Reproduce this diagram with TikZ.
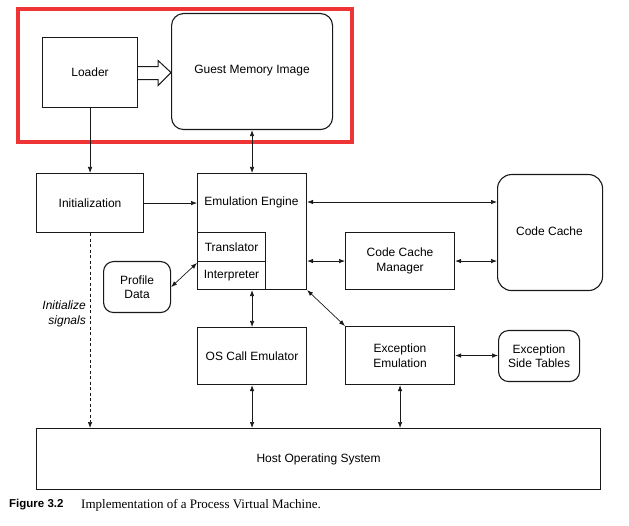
\documentclass[tikz,border=0pt]{standalone}
\usepackage{fontspec}
\setmainfont{Liberation Sans}
\newfontfamily\capserif{Liberation Serif}
\usetikzlibrary{arrows.meta,calc}
\definecolor{hlred}{RGB}{238,52,52}
\definecolor{ink}{RGB}{25,25,25}
\tikzset{
  box/.style={draw=ink, line width=1.1pt, anchor=north west, inner sep=0pt, align=center,
    font=\fontsize{12}{14.5}\selectfont},
  rbox/.style={box, rounded corners=#1},
  lbl/.style={inner sep=0pt, align=center, font=\fontsize{12}{14.5}\selectfont},
  arr/.style={draw=ink, line width=0.7pt, -{Latex[length=6pt,width=4.5pt]}},
  darr/.style={draw=ink, line width=0.7pt, {Latex[length=6pt,width=4.5pt]}-{Latex[length=6pt,width=4.5pt]}},
}
\begin{document}
\begin{tikzpicture}[x=1pt,y=-1pt]
\useasboundingbox (0,0) rectangle (629,526);
% highlight
\draw[hlred, line width=4pt] (18,9) rectangle (352,142);
% top row
\node[box, minimum width=95, minimum height=70] (loader) at (42,37) {Loader};
\node[rbox=12pt, minimum width=161, minimum height=116] (gmi) at (171,13) {};
\node[lbl] (gmitxt) at (252,71) {Guest Memory Image};
% hollow arrow
\draw[ink, line width=1pt, fill=white]
  ($(loader.east)+(0,-6)$) -- ++(20,0) -- ++(0,-6) -- ($(gmi.west |- loader.east)+(0,0)$)
  -- ($(loader.east)+(20,13)$) -- ++(0,-6) -- ($(loader.east)+(0,7)$);
% middle
\node[box, minimum width=107, minimum height=59] (init) at (36,173) {Initialization};
\node[box, minimum width=109, minimum height=116] (ee) at (197,173) {};
\node[lbl] (eetxt) at (251.5,202) {Emulation Engine};
\node[box, minimum width=68, minimum height=29] (trans) at (197,232) {Translator};
\node[box, minimum width=68, minimum height=28] (interp) at (197,261) {Interpreter};
\node[rbox=10pt, minimum width=67, minimum height=51] (pd) at (103,261) {Profile\\Data};
\node[box, minimum width=109, minimum height=57] (ccm) at (345,232) {Code Cache\\Manager};
\node[rbox=14pt, minimum width=105, minimum height=116] (cc) at (497,174) {};
\node[lbl] (cctxt) at (549.5,231) {Code Cache};
\node[box, minimum width=109, minimum height=57] (osc) at (197,327) {OS Call Emulator};
\node[box, minimum width=109, minimum height=58] (exc) at (345,326) {Exception\\Emulation};
\node[rbox=10pt, minimum width=81, minimum height=51] (est) at (498,330) {Exception\\Side Tables};
\node[box, minimum width=564, minimum height=61] (host) at (36,428) {Host Operating System};
\node[inner sep=0pt, anchor=east, align=right, font=\fontsize{12}{15.5}\selectfont\itshape] (sig) at (86,314) {Initialize\\signals};
% connectors
\draw[arr] (loader.south) -- (init.north);
\draw[darr] (gmi.south) -- (ee.north);
\draw[arr] (init.east) -- (ee.west |- init.east);
\draw[darr] (ee.east |- eetxt) -- (cc.west |- eetxt);
\draw[darr] (ee.east |- ccm.west) -- (ccm.west);
\draw[darr] (ccm.east) -- (cc.west |- ccm.east);
\draw[darr] (ee.south east) -- (exc.north west);
\draw[darr] (exc.east) -- (est.west |- exc.east);
\draw[darr] (pd.east) -- ($(interp.north west)+(0,2)$);
\draw[darr] (ee.south) -- (osc.north);
\draw[darr] (osc.south) -- (host.north -| osc.south);
\draw[darr] (exc.south) -- (host.north -| exc.south);
\draw[arr, dashed, dash pattern=on 3pt off 2.5pt] (init.south) -- (host.north -| init.south);
% caption
\node[inner sep=0pt, anchor=west, font=\fontsize{11.5}{13}\selectfont\bfseries] (figno) at (9,505) {Figure 3.2};
\node[inner sep=0pt, anchor=west, font=\capserif\fontsize{13}{15}\selectfont] (cap) at (81,505) {Implementation of a Process Virtual Machine.};
\end{tikzpicture}
\end{document}
